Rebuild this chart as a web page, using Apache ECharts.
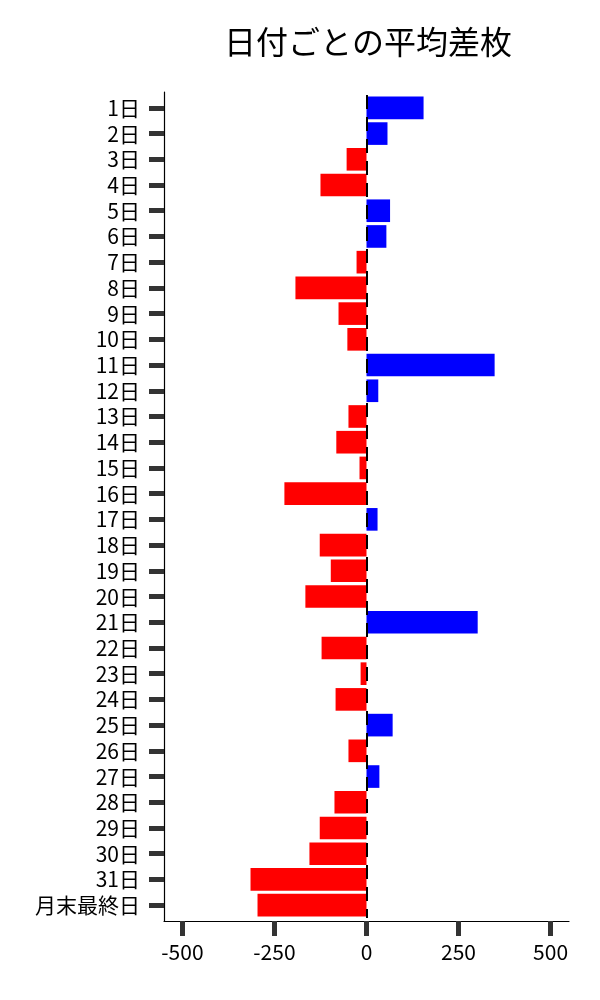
<!DOCTYPE html>
<html>
<head>
<meta charset="utf-8">
<script src="https://cdn.jsdelivr.net/npm/echarts@6/dist/echarts.min.js"></script>
<style>
  html, body { margin: 0; padding: 0; background: #fff; }
  #chart { width: 600px; height: 1000px; }
</style>
</head>
<body>
<div id="chart"></div>
<script>
const days = ['1日', '2日', '3日', '4日', '5日', '6日', '7日', '8日', '9日', '10日',
  '11日', '12日', '13日', '14日', '15日', '16日', '17日', '18日', '19日', '20日',
  '21日', '22日', '23日', '24日', '25日', '26日', '27日', '28日', '29日', '30日',
  '31日', '月末最終日'];
const avgDiff = [155, 57, -54, -125, 64, 54, -27, -193, -76, -52,
  348, 32, -49, -82, -19, -223, 30, -127, -97, -166,
  302, -122, -16, -84, 71, -49, 35, -87, -127, -155,
  -315, -296];
const xTicks = [-500, -250, 0, 250, 500];

const font = '"Noto Sans CJK JP", "Noto Sans", sans-serif';
const chart = echarts.init(document.getElementById('chart'));

const option = {
  backgroundColor: '#fff',
  animation: false,
  title: {
    text: '日付ごとの平均差枚',
    left: 363,
    top: 21,
    textAlign: 'center',
    textStyle: { fontFamily: font, fontSize: 32, fontWeight: 'normal', color: '#000' }
  },
  grid: [
    { left: 164, right: 31, top: 95, bottom: 82 },
    { left: 164, right: 31, top: 92, bottom: 79 }
  ],
  xAxis: [
    { gridIndex: 0, type: 'value', min: -550, max: 550, show: false },
    {
      gridIndex: 1, type: 'value', min: -550, max: 550,
      splitLine: { show: false },
      axisLine: { show: true, onZero: false, lineStyle: { color: '#000', width: 1.2 } },
      axisTick: { show: true, customValues: xTicks, length: 15, lineStyle: { color: '#333', width: 5 } },
      axisLabel: { customValues: xTicks, margin: 21, fontFamily: font, fontSize: 21, color: '#000' }
    }
  ],
  yAxis: [
    {
      gridIndex: 0, type: 'category', data: days, inverse: true,
      axisLine: { show: false, onZero: false },
      axisTick: { show: true, interval: 0, alignWithLabel: true, length: 15, lineStyle: { color: '#333', width: 5 } },
      axisLabel: { interval: 0, margin: 24, fontFamily: font, fontSize: 21, color: '#000' }
    },
    {
      gridIndex: 1, type: 'value', min: 0, max: 1,
      axisLine: { show: true, onZero: false, lineStyle: { color: '#000', width: 1.2 } },
      axisTick: { show: false }, axisLabel: { show: false }, splitLine: { show: false }
    }
  ],
  series: [
    {
      type: 'bar',
      xAxisIndex: 0,
      yAxisIndex: 0,
      barCategoryGap: '12%',
      data: avgDiff.map(v => ({
        value: v,
        itemStyle: { color: v >= 0 ? '#0000ff' : '#ff0000' }
      })),
      markLine: {
        silent: true,
        symbol: 'none',
        label: { show: false },
        lineStyle: { type: [14, 8], color: '#000', width: 2 },
        data: [{ xAxis: 0 }]
      }
    }
  ]
};

chart.setOption(option);
</script>
</body>
</html>
